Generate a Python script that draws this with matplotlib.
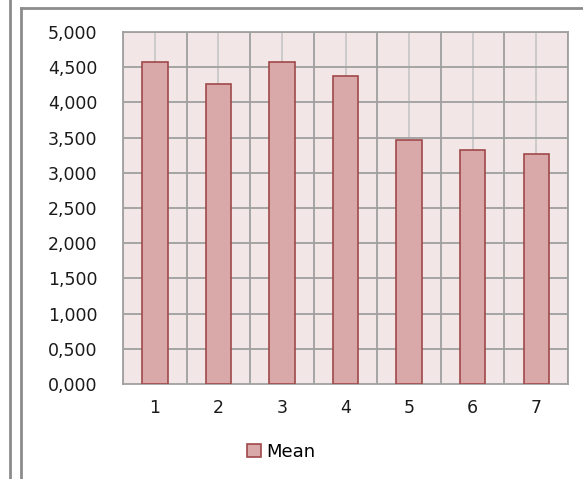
import numpy as np
import matplotlib.pyplot as plt
from matplotlib.lines import Line2D
from matplotlib.ticker import FuncFormatter, MultipleLocator

categories = ["1", "2", "3", "4", "5", "6", "7"]
means = [4.57, 4.255, 4.58, 4.37, 3.46, 3.33, 3.27]
series_name = "Mean"

W, H = 583, 479
fig = plt.figure(figsize=(W / 100, H / 100), dpi=100)
plt.rcParams['font.family'] = ['DejaVu Sans']

ax = fig.add_axes([123 / W, 1 - 384 / H, 445 / W, 352 / H])
ax.set_facecolor('#F2E6E7')

x = np.arange(len(categories))
ax.bar(x, means, width=0.4, color='#D9A9AA', edgecolor='#A0484A',
       linewidth=1.2, label=series_name, zorder=3)

ax.set_xlim(-0.5, len(categories) - 0.5)
ax.set_ylim(0, 5)
ax.yaxis.set_major_locator(MultipleLocator(0.5))
ax.yaxis.set_major_formatter(FuncFormatter(lambda v, p: f"{v:.3f}".replace('.', ',')))
ax.set_xticks(x)
ax.set_xticklabels(categories)

# category boundaries (major) and centres (minor) grid
for b in np.arange(-0.5, len(categories) + 0.5, 1):
    ax.axvline(b, color='#A0A0A0', lw=1.3, zorder=1)
for c in x:
    ax.axvline(c, color='#C8C8C8', lw=1.3, zorder=1)
for v in np.arange(0.5, 5.01, 0.5):
    ax.axhline(v, color='#A0A0A0', lw=1.3, zorder=1)

for s in ax.spines.values():
    s.set_color('#A0A0A0')
    s.set_linewidth(1.3)
ax.tick_params(length=0, labelsize=12.5, colors='#1A1A1A')
ax.tick_params(axis='y', pad=18.5)
ax.tick_params(axis='x', pad=11)

leg = fig.legend(handles=[plt.Rectangle((0, 0), 1, 1, facecolor='#D9A9AA',
                                        edgecolor='#A0484A', lw=1.2)],
                 labels=[series_name], loc='center', bbox_to_anchor=(281 / W, 1 - 452 / H),
                 frameon=False, fontsize=13, handlelength=0.75, handleheight=0.75,
                 handletextpad=0.3)

# outer frame lines
def px_line(xs, ys):
    fig.add_artist(Line2D([a / W for a in xs], [1 - b / H for b in ys],
                          color='#8C8C8C', lw=2, transform=fig.transFigure))

px_line([9.5, 9.5], [0, H])
px_line([20.5, 20.5], [8, H])
px_line([20.5, W], [8, 8])

fig.savefig('out.png', dpi=100)
